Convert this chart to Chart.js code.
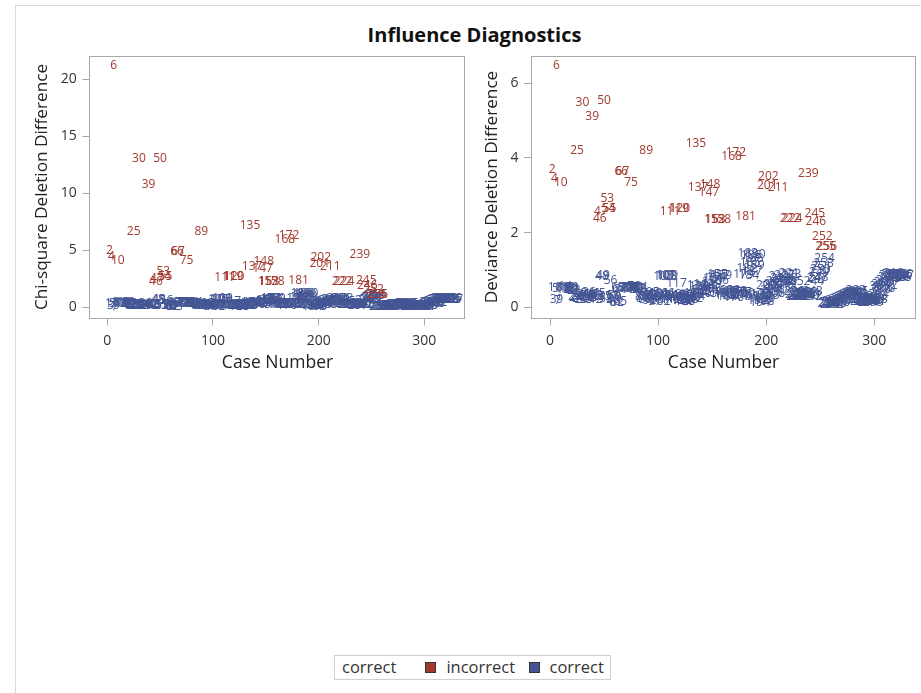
<!DOCTYPE html>
<html>
<head>
<meta charset="utf-8">
<script src="https://cdn.jsdelivr.net/npm/chart.js@4/dist/chart.umd.min.js"></script>
<style>
  html, body { margin: 0; padding: 0; background: #fff; }
  body { width: 921px; height: 693px; position: relative; overflow: hidden; font-family: "Open Sans", sans-serif; }
  #frame { position: absolute; left: 15px; top: 5px; right: -2px; bottom: -2px; border-left: 1px solid #d6dae2; border-top: 1px solid #d6dae2; }
  #title { position: absolute; left: 0; width: 949px; top: 22px; text-align: center; font-weight: bold; font-size: 20px; line-height: 26px; color: #111; }
  canvas { position: absolute; }
  #c1 { left: 20px; top: 50px; }
  #c2 { left: 470px; top: 50px; }
  #legend { position: absolute; left: 334px; top: 655px; width: 277px; height: 25px; border: 1px solid #cfcfcf; box-sizing: border-box;
            display: flex; align-items: center; font-size: 16.5px; line-height: 20px; color: #333; white-space: nowrap; }
  #legend .lt { margin-left: 7px; margin-right: 29px; position: relative; top: -1px; }
  #legend .sw { width: 9px; height: 9px; border: 1px solid #333; margin-right: 10px; flex: none; }
  #legend .tx { margin-right: 13.5px; position: relative; top: -1px; }
</style>
</head>
<body>
<div id="frame"></div>
<div id="title">Influence Diagnostics</div>
<canvas id="c1" width="450" height="330"></canvas>
<canvas id="c2" width="451" height="330"></canvas>
<div id="legend">
  <span class="lt">correct</span>
  <span class="sw" style="background:#a23a2e"></span><span class="tx">incorrect</span>
  <span class="sw" style="background:#445694"></span><span class="tx">correct</span>
</div>
<script>
// Case numbers whose observed outcome was misclassified
const incorrectCases = [2, 4, 6, 10, 25, 30, 39, 46, 47, 50, 53, 54, 55, 66, 67, 75, 89,
  111, 119, 120, 135, 137, 147, 148, 152, 153, 158, 168, 172, 181, 201, 202, 211,
  222, 224, 239, 245, 246, 252, 255, 256];

// Chi-square deletion difference, one value per case (case 1 first)
const chiSqDiff = [
  .36, 5.0, .12, 4.45, .35, 21.2, .10, .37, .13, 4.13,
  .35, .33, .36, .39, .34, .37, .34, .36, .32, .38,
  .35, .31, .20, .18, 6.6, .22, .16, .26, .14, 13.0,
  .24, .18, .13, .21, .17, .28, .15, .23, 10.8, .19,
  .25, .14, .21, .18, .25, 2.22, 2.55, .68, .71, 13.07,
  .20, .16, 3.1, 2.7, 2.66, .58, .18, .13, .22, .17,
  .08, .07, .38, .35, .09, 4.92, 4.92, .38, .36, .37,
  .36, .39, .35, .37, 4.13, .38, .36, .40, .36, .34,
  .37, .35, .33, .38, .20, .16, .22, .13, 6.6, .18,
  .25, .12, .21, .15, .28, .18, .10, .23, .14, .19,
  .26, .09, .21, .16, .68, .25, .71, .69, .72, .18,
  2.57, .12, .23, .17, .11, .21, .50, .14, 2.7, 2.7,
  .18, .12, .22, .14, .10, .19, .15, .12, .24, .17,
  .21, .14, .26, .19, 7.15, .43, 3.54, .41, .31, .25,
  .34, .45, .29, .40, .26, .38, 3.4, 3.98, .47, .55,
  .61, 2.28, 2.28, .67, .74, .57, .70, 2.28, .72, .32,
  .26, .22, .30, .19, .25, .31, .21, 5.9, .28, .18,
  .24, 6.3, .30, .21, .27, .20, .29, .23, .74, .26,
  2.37, .88, 1.22, .70, 1.01, 1.16, .80, 1.10, .94, 1.20,
  .20, .11, .16, .07, .23, .13, .18, .10, .14, .43,
  3.84, 4.37, .21, .32, .40, .28, .47, .25, .55, .34,
  3.6, .68, .63, .51, .59, .45, .72, .55, .48, .61,
  .76, 2.28, .74, 2.28, .53, .30, .24, .20, .26, .22,
  .25, .19, .28, .21, .26, .23, .18, .27, 4.66, .21,
  .25, .20, .30, .55, 2.37, 1.93, .61, .66, .77, .84,
  .91, 1.55, 1.00, 1.10, 1.14, 1.14, .05, .08, .04, .07,
  .09, .05, .07, .11, .06, .09, .12, .08, .15, .12,
  .17, .14, .19, .16, .21, .18, .24, .20, .26, .23,
  .29, .25, .32, .27, .30, .14, .10, .16, .12, .09,
  .14, .11, .18, .08, .13, .10, .16, .12, .08, .14,
  .10, .18, .12, .23, .40, .34, .45, .38, .51, .36,
  .57, .43, .66, .71, .63, .74, .68, .76, .70, .73,
  .66, .75, .69, .72, .67, .74, .70
];

// Deviance deletion difference, one value per case (case 1 first)
const devianceDiff = [
  .52, 3.68, .20, 3.45, .50, 6.46, .18, .53, .22, 3.34,
  .51, .48, .52, .55, .50, .53, .49, .51, .47, .54,
  .50, .46, .30, .27, 4.19, .33, .25, .38, .22, 5.49,
  .35, .28, .20, .31, .26, .40, .24, .34, 5.1, .29,
  .37, .22, .32, .27, .36, 2.37, 2.56, .82, .84, 5.53,
  .30, .24, 2.9, 2.63, 2.63, .73, .28, .21, .33, .26,
  .14, .12, .52, .49, .15, 3.63, 3.63, .53, .50, .52,
  .51, .54, .49, .52, 3.34, .53, .50, .55, .51, .48,
  .52, .50, .47, .53, .30, .25, .33, .21, 4.19, .28,
  .36, .19, .31, .24, .40, .27, .17, .34, .22, .29,
  .38, .15, .31, .25, .82, .36, .85, .83, .86, .28,
  2.56, .20, .34, .26, .18, .31, .64, .23, 2.65, 2.65,
  .27, .19, .33, .22, .16, .29, .24, .20, .35, .26,
  .31, .23, .38, .29, 4.37, .58, 3.2, .56, .44, .36,
  .48, .60, .41, .55, .38, .52, 3.07, 3.29, .62, .70,
  .76, 2.34, 2.34, .81, .88, .72, .84, 2.34, .86, .45,
  .38, .33, .42, .29, .36, .44, .31, 4.02, .40, .27,
  .35, 4.15, .43, .32, .39, .30, .41, .34, .88, .37,
  2.43, 1.05, 1.45, .84, 1.20, 1.38, .96, 1.30, 1.12, 1.42,
  .30, .18, .25, .12, .34, .21, .28, .16, .23, .58,
  3.25, 3.5, .32, .45, .55, .40, .62, .36, .70, .48,
  3.2, .82, .78, .66, .74, .60, .86, .70, .63, .76,
  .90, 2.37, .88, 2.37, .68, .42, .35, .30, .38, .33,
  .36, .29, .40, .31, .37, .34, .28, .39, 3.57, .32,
  .36, .30, .42, .70, 2.52, 2.29, .76, .80, .92, 1.00,
  1.08, 1.89, 1.18, 1.30, 1.62, 1.62, .10, .14, .08, .12,
  .16, .09, .13, .18, .11, .15, .20, .14, .24, .19,
  .26, .22, .29, .25, .32, .28, .35, .30, .38, .34,
  .41, .36, .45, .39, .43, .22, .17, .25, .20, .15,
  .23, .18, .27, .14, .21, .16, .25, .19, .13, .22,
  .17, .28, .20, .34, .55, .48, .60, .52, .66, .50,
  .72, .58, .80, .85, .78, .88, .82, .90, .84, .87,
  .80, .89, .83, .86, .81, .88, .84
];

// Tick values
const caseTicks = [0, 100, 200, 300];
const chiSqTicks = [0, 5, 10, 15, 20];
const devianceTicks = [0, 2, 4, 6];

const RED = '#a23a2e';
const BLUE = '#445694';
const FONT = '"Open Sans", sans-serif';
const incorrectSet = new Set(incorrectCases);

function pointsFor(values, wantIncorrect) {
  const pts = [];
  values.forEach((v, i) => {
    const caseNo = i + 1;
    if (incorrectSet.has(caseNo) === wantIncorrect) pts.push({ x: caseNo, y: v });
  });
  return pts;
}

// Each observation is drawn as its case number at the point position
const caseLabelPlugin = {
  id: 'caseLabels',
  afterDatasetsDraw(chart) {
    const ctx = chart.ctx;
    const a = chart.chartArea;
    ctx.save();
    ctx.beginPath();
    ctx.rect(a.left, a.top, a.right - a.left, a.bottom - a.top);
    ctx.clip();
    ctx.font = '12px ' + FONT;
    ctx.textAlign = 'center';
    ctx.textBaseline = 'middle';
    chart.data.datasets.forEach((ds, i) => {
      const meta = chart.getDatasetMeta(i);
      ctx.fillStyle = ds.textColor;
      meta.data.forEach((el, j) => {
        ctx.fillText(String(ds.data[j].x), el.x, el.y);
      });
    });
    ctx.restore();
  }
};

// Box around the plotting area
const framePlugin = {
  id: 'plotFrame',
  afterDraw(chart) {
    const a = chart.chartArea;
    const ctx = chart.ctx;
    ctx.save();
    ctx.strokeStyle = '#a8a8a8';
    ctx.lineWidth = 1;
    ctx.strokeRect(Math.round(a.left) + 0.5, Math.round(a.top) + 0.5,
                   Math.round(a.right - a.left) - 1, Math.round(a.bottom - a.top) - 1);
    ctx.restore();
  }
};

function noScalePadding(s) {
  s.paddingTop = 0; s.paddingBottom = 0; s.paddingLeft = 0; s.paddingRight = 0;
}

function makePanel(canvasId, values, yTicks, cfg) {
  return new Chart(document.getElementById(canvasId), {
    type: 'scatter',
    data: {
      datasets: [
        { label: 'correct', data: pointsFor(values, false), textColor: BLUE, pointRadius: 0, pointHoverRadius: 0 },
        { label: 'incorrect', data: pointsFor(values, true), textColor: RED, pointRadius: 0, pointHoverRadius: 0 }
      ]
    },
    options: {
      responsive: false,
      animation: false,
      events: [],
      layout: { padding: { top: 5.7, right: cfg.padRight, bottom: 0, left: 0 } },
      plugins: { legend: { display: false }, tooltip: { enabled: false } },
      scales: {
        x: {
          type: 'linear',
          min: cfg.xMin, max: cfg.xMax,
          afterBuildTicks: s => { s.ticks = caseTicks.map(v => ({ value: v })); },
          afterFit: s => { s.height = 61.7; noScalePadding(s); },
          grid: { drawOnChartArea: false, drawTicks: true, tickLength: 7, color: '#a8a8a8' },
          border: { display: false },
          ticks: { color: '#333', font: { family: FONT, size: 14 }, padding: 7, maxRotation: 0 },
          title: { display: true, text: 'Case Number', color: '#222', font: { family: FONT, size: 17.5 }, padding: { top: 0, bottom: 6.5 } }
        },
        y: {
          type: 'linear',
          min: cfg.yMin, max: cfg.yMax,
          afterBuildTicks: s => { s.ticks = yTicks.map(v => ({ value: v })); },
          afterFit: s => { s.width = cfg.yWidth; noScalePadding(s); },
          grid: { drawOnChartArea: false, drawTicks: true, tickLength: 7, color: '#a8a8a8' },
          border: { display: false },
          ticks: { color: '#333', font: { family: FONT, size: 14 }, padding: 5.6 },
          title: { display: true, text: cfg.yTitle, color: '#222', font: { family: FONT, size: 17.2 }, padding: { top: 11.3, bottom: 0 } }
        }
      }
    },
    plugins: [caseLabelPlugin, framePlugin]
  });
}

function drawAll() {
  makePanel('c1', chiSqDiff, chiSqTicks, {
    xMin: -17.0, xMax: 339.1, yMin: -0.97, yMax: 22.06,
    yWidth: 69.3, padRight: 4.3, yTitle: 'Chi-square Deletion Difference'
  });
  makePanel('c2', devianceDiff, devianceTicks, {
    xMin: -17.6, xMax: 338.6, yMin: -0.29, yMax: 6.73,
    yWidth: 61, padRight: 5, yTitle: 'Deviance Deletion Difference'
  });
}

if (document.fonts && document.fonts.load) {
  Promise.all([document.fonts.load('12px "Open Sans"'), document.fonts.load('bold 20px "Open Sans"')])
    .then(drawAll, drawAll);
} else {
  drawAll();
}
</script>
</body>
</html>
